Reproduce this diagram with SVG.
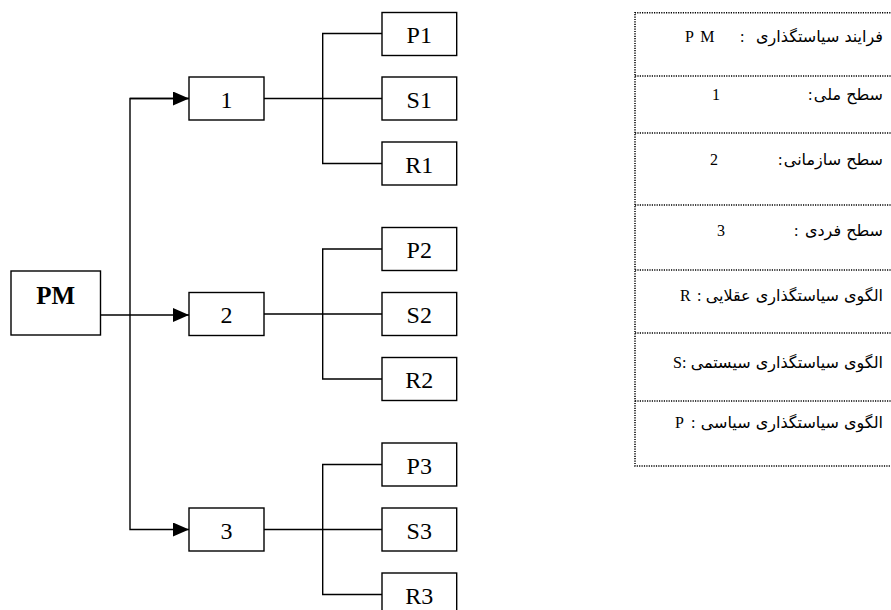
<svg xmlns="http://www.w3.org/2000/svg" width="891" height="610" viewBox="0 0 891 610">
<style>
.box{fill:#fff;stroke:#000;stroke-width:1.4}
.lbl{font-family:"Liberation Serif","Times New Roman",serif;font-size:24px;text-anchor:middle;fill:#000}
.bold{font-weight:bold;font-size:25px}
.ln{fill:none;stroke:#000;stroke-width:1.4}
.dot{fill:none;stroke:#000;stroke-width:1.5;stroke-dasharray:1.2 1.2}
.ar{font-family:"DejaVu Sans","Noto Sans",sans-serif;font-size:16px;fill:#000;text-anchor:end}
.lt{font-family:"Liberation Serif","Times New Roman",serif;font-size:16px;fill:#000}
</style>
<defs>
<marker id="arr" markerWidth="16" markerHeight="14" refX="16" refY="7" orient="auto" markerUnits="userSpaceOnUse">
<path d="M0,0 L16,7 L0,14 Z" fill="#000"/>
</marker>
</defs>
<g id="connectors">
<path class="ln" d="M100.5,315 H189" marker-end="url(#arr)"/>
<path class="ln" d="M189,98.5 H130 V529.5 H189" marker-end="url(#arr)"/>
<path class="ln" d="M130,98.5 H189" marker-end="url(#arr)"/>
<path class="ln" d="M264,98.5 H382 M382,33.5 H322.7 V163.5 H382"/>
<path class="ln" d="M264,314 H382 M382,249 H322.7 V379 H382"/>
<path class="ln" d="M264,529.5 H382 M382,464.5 H322.7 V594.5 H382"/>
</g>
<g id="PM"><rect class="box" x="11" y="271" width="89.5" height="64"/><text class="lbl bold" x="55.7" y="304">PM</text></g>
<g id="n1"><rect class="box" x="189" y="77" width="75" height="43"/><text class="lbl" x="226.5" y="107.5">1</text></g>
<g id="n2"><rect class="box" x="189" y="292.5" width="75" height="43"/><text class="lbl" x="226.5" y="323">2</text></g>
<g id="n3"><rect class="box" x="189" y="508" width="75" height="43"/><text class="lbl" x="226.5" y="538.5">3</text></g>
<g id="P1"><rect class="box" x="382" y="12.5" width="74.7" height="43"/><text class="lbl" x="419.3" y="43">P1</text></g>
<g id="S1"><rect class="box" x="382" y="77" width="74.7" height="43"/><text class="lbl" x="419.3" y="107.5">S1</text></g>
<g id="R1"><rect class="box" x="382" y="142" width="74.7" height="43"/><text class="lbl" x="419.3" y="172.5">R1</text></g>
<g id="P2"><rect class="box" x="382" y="227.5" width="74.7" height="43"/><text class="lbl" x="419.3" y="258">P2</text></g>
<g id="S2"><rect class="box" x="382" y="292.5" width="74.7" height="43"/><text class="lbl" x="419.3" y="323">S2</text></g>
<g id="R2"><rect class="box" x="382" y="357.5" width="74.7" height="43"/><text class="lbl" x="419.3" y="388">R2</text></g>
<g id="P3"><rect class="box" x="382" y="443" width="74.7" height="43"/><text class="lbl" x="419.3" y="473.5">P3</text></g>
<g id="S3"><rect class="box" x="382" y="508" width="74.7" height="43"/><text class="lbl" x="419.3" y="538.5">S3</text></g>
<g id="R3"><rect class="box" x="382" y="573" width="74.7" height="43"/><text class="lbl" x="419.3" y="603.5">R3</text></g>
<g id="legend">
<path class="dot" d="M900,12.7 H635 V466 H900"/>
<path class="dot" d="M635,76 H900 M635,133 H900 M635,205 H900 M635,270 H900 M635,333 H900 M635,401 H900"/>
<text class="ar" x="883" y="42">فرایند سیاستگذاری</text>
<text class="lt" x="740" y="42">:</text>
<text class="lt" x="685" y="42" letter-spacing="1.5">P M</text>
<text class="ar" x="883" y="100">سطح ملی</text>
<text class="lt" x="808" y="100">:</text>
<text class="lt" x="712" y="100">1</text>
<text class="ar" x="883" y="165" font-size="15">سطح سازمانی</text>
<text class="lt" x="778" y="165">:</text>
<text class="lt" x="710" y="165">2</text>
<text class="ar" x="883" y="236">سطح فردی</text>
<text class="lt" x="794" y="236">:</text>
<text class="lt" x="717" y="236">3</text>
<text class="ar" x="883" y="301">الگوی سیاستگذاری عقلایی</text>
<text class="lt" x="697" y="301">:</text>
<text class="lt" x="680" y="301">R</text>
<text class="ar" x="883" y="368">الگوی سیاستگذاری سیستمی</text>
<text class="lt" x="673" y="368">S:</text>
<text class="ar" x="883" y="428">الگوی سیاستگذاری سیاسی</text>
<text class="lt" x="691" y="428">:</text>
<text class="lt" x="675" y="428">P</text>
</g>
</svg>
